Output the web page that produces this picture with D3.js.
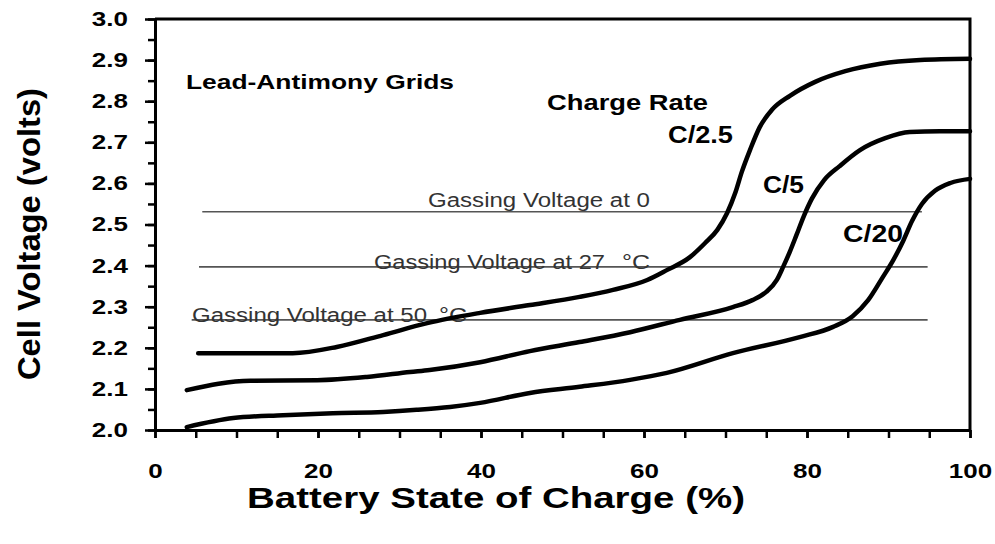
<!DOCTYPE html>
<html>
<head>
<meta charset="utf-8">
<script src="https://cdn.jsdelivr.net/npm/d3@7"></script>
<style>
  body { margin: 0; background: #fff; }
  svg { display: block; }
  text { font-family: "Liberation Sans", Arial, sans-serif; }
</style>
</head>
<body>
<div id="chart"></div>
<script>
// values: state of charge (%) and cell voltage (V)
var socC25  = [5.3, 16.9, 22.3, 28.0, 33.4, 39.9, 46.0, 52.1, 56.2, 60.4, 62.8, 65.6, 67.5, 69.0, 70.2, 71.2, 72.0, 73.0, 74.2, 75.7, 77.9, 81.0, 84.7, 89.0, 93.9, 100];
var voltC25 = [2.187, 2.187, 2.202, 2.231, 2.260, 2.285, 2.304, 2.324, 2.341, 2.365, 2.389, 2.420, 2.455, 2.487, 2.528, 2.577, 2.628, 2.681, 2.737, 2.779, 2.813, 2.847, 2.873, 2.891, 2.900, 2.903];

var socC5  = [3.9, 11.7, 19.9, 26.0, 31.3, 33.7, 39.9, 46.0, 52.1, 58.3, 64.4, 70.9, 73.3, 75.0, 76.3, 77.1, 77.9, 78.7, 79.6, 80.6, 82.1, 84.0, 86.5, 89.6, 92.6, 96.3, 100];
var voltC5 = [2.097, 2.120, 2.121, 2.129, 2.141, 2.146, 2.165, 2.192, 2.214, 2.238, 2.268, 2.299, 2.316, 2.336, 2.365, 2.398, 2.434, 2.474, 2.520, 2.563, 2.608, 2.642, 2.681, 2.710, 2.725, 2.727, 2.727];

var socC20  = [3.9, 9.6, 15.7, 21.8, 28.0, 32.1, 36.2, 39.9, 46.0, 52.1, 58.3, 62.8, 70.9, 79.1, 83.2, 85.6, 87.5, 89.3, 90.6, 91.8, 92.9, 94.1, 95.7, 97.6, 100];
var voltC20 = [2.007, 2.029, 2.036, 2.041, 2.044, 2.049, 2.056, 2.066, 2.090, 2.105, 2.122, 2.139, 2.187, 2.226, 2.251, 2.277, 2.316, 2.372, 2.414, 2.460, 2.509, 2.550, 2.582, 2.601, 2.611];

// gassing voltage reference lines
var gassingVolts = [2.531, 2.397, 2.268];
var gassingFrom  = [5.8, 5.4, 4.5];
var gassingTo    = [94.1, 94.8, 94.8];

var xMajor = [0, 20, 40, 60, 80, 100];
var xMinor = d3.range(0, 101, 5);
var yMajor = [2.0, 2.1, 2.2, 2.3, 2.4, 2.5, 2.6, 2.7, 2.8, 2.9, 3.0];
var yMinor = d3.range(0, 21).map(function(i) { return 2 + i * 0.05; });

var width = 995, height = 544;
var x = d3.scaleLinear().domain([0, 100]).range([155, 970]);
var y = d3.scaleLinear().domain([2, 3]).range([430, 19]);

var svg = d3.select("#chart").append("svg")
  .attr("width", width)
  .attr("height", height);

// the lettering in the scan is wide, so stretch text to a given width
function stretch(sel, k) {
  sel.each(function() {
    var w = this.getComputedTextLength();
    d3.select(this).attr("textLength", w * k).attr("lengthAdjust", "spacingAndGlyphs");
  });
}

function label(txt, px, py, size, bold, len, fill) {
  return svg.append("text")
    .attr("x", px).attr("y", py)
    .attr("font-size", size)
    .attr("font-weight", bold ? "bold" : "normal")
    .attr("fill", fill || "#000")
    .attr("textLength", len)
    .attr("lengthAdjust", "spacingAndGlyphs")
    .text(txt);
}

// gassing lines + their labels (drawn under the curves)
gassingVolts.forEach(function(v, i) {
  svg.append("line")
    .attr("x1", x(gassingFrom[i])).attr("x2", x(gassingTo[i]))
    .attr("y1", y(v)).attr("y2", y(v))
    .attr("stroke", "#555").attr("stroke-width", 1.6);
});
label("Gassing Voltage at 0", 428, y(gassingVolts[0]) - 5, 20, false, 222, "#333");
label("Gassing Voltage at 27", 374, y(gassingVolts[1]) + 2, 20, false, 231, "#333");
label("°C", 622, y(gassingVolts[1]) + 2, 20, false, 28, "#333");
label("Gassing Voltage at 50", 192, y(gassingVolts[2]) + 2, 20, false, 235, "#333");
label("°C", 439, y(gassingVolts[2]) + 2, 20, false, 28, "#333");

// curves
var line = d3.line()
  .x(function(d) { return x(d[0]); })
  .y(function(d) { return y(d[1]); })
  .curve(d3.curveMonotoneX);

[[socC25, voltC25], [socC5, voltC5], [socC20, voltC20]].forEach(function(s) {
  svg.append("path")
    .datum(d3.zip(s[0], s[1]))
    .attr("fill", "none")
    .attr("stroke", "#000")
    .attr("stroke-width", 4.5)
    .attr("stroke-linecap", "round")
    .attr("stroke-linejoin", "round")
    .attr("d", line);
});

// frame top + right
svg.append("path")
  .attr("d", "M" + x(0) + "," + y(3) + "H" + x(100) + "V" + y(2))
  .attr("fill", "none").attr("stroke", "#000").attr("stroke-width", 3);

// axes
svg.append("g").attr("transform", "translate(0," + y(2) + ")")
  .call(d3.axisBottom(x).tickValues(xMinor).tickSize(8).tickSizeOuter(0).tickFormat(""));
var gx = svg.append("g").attr("transform", "translate(0," + y(2) + ")")
  .call(d3.axisBottom(x).tickValues(xMajor).tickSize(8).tickSizeOuter(0).tickPadding(26));

svg.append("g").attr("transform", "translate(" + x(0) + ",0)")
  .call(d3.axisLeft(y).tickValues(yMinor).tickSize(7).tickSizeOuter(0).tickFormat(""));
var gy = svg.append("g").attr("transform", "translate(" + x(0) + ",0)")
  .call(d3.axisLeft(y).tickValues(yMajor).tickSize(10).tickSizeOuter(0).tickPadding(17).tickFormat(d3.format(".1f")));

svg.selectAll(".domain").attr("stroke", "#000").attr("stroke-width", 3);
svg.selectAll(".tick line").attr("stroke", "#000").attr("stroke-width", 2.5);
svg.selectAll(".tick text")
  .attr("font-family", "Liberation Sans, Arial, sans-serif")
  .attr("font-size", 20).attr("font-weight", "bold").attr("fill", "#000");
stretch(gx.selectAll(".tick text"), 1.3);
stretch(gy.selectAll(".tick text"), 1.3);

// axis titles
label("Battery State of Charge (%)", 247, 508, 29, true, 498);
svg.append("text")
  .attr("transform", "translate(40,380) rotate(-90)")
  .attr("font-size", 31).attr("font-weight", "bold")
  .attr("textLength", 292).attr("lengthAdjust", "spacingAndGlyphs")
  .text("Cell Voltage (volts)");

// annotations
label("Lead-Antimony Grids", 186, 89, 21, true, 268);
label("Charge Rate", 547, 110, 22, true, 161);
label("C/2.5", 668, 143, 23, true, 65);
label("C/5", 763, 193, 23, true, 41);
label("C/20", 843, 242, 23, true, 60);
</script>
</body>
</html>
